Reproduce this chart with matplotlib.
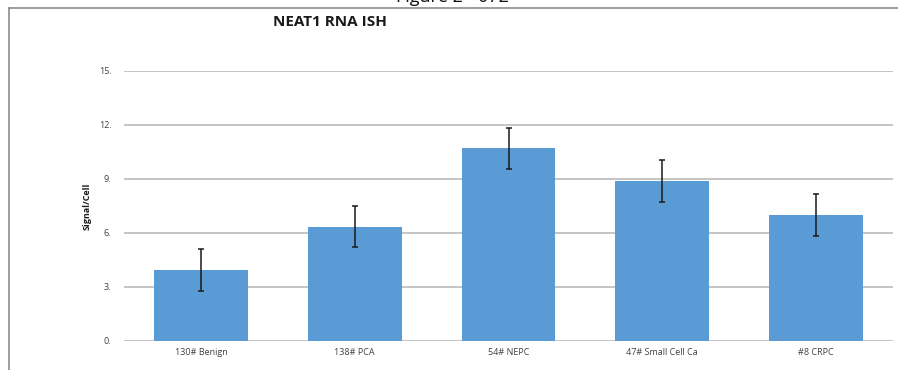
import matplotlib.pyplot as plt
from matplotlib.lines import Line2D

categories = ["130# Benign", "138# PCA", "54# NEPC", "47# Small Cell Ca", "#8 CRPC"]
signal = [3.95, 6.35, 10.7, 8.9, 7.0]
err = [1.15, 1.15, 1.15, 1.15, 1.15]
yticks = [0, 3, 6, 9, 12, 15]

plt.rcParams['font.family'] = ['Open Sans', 'DejaVu Sans']

fig = plt.figure(figsize=(8.98, 3.70), dpi=100)
ax = fig.add_axes([124 / 898, 1 - 341 / 370, (893 - 124) / 898, (341 - 71) / 370])

x = range(len(categories))
ax.bar(x, signal, width=0.61, color='#5b9bd5', zorder=2)
ax.errorbar(x, signal, yerr=err, fmt='none', ecolor='#1a1a1a', elinewidth=1.1,
            capsize=2.5, capthick=1.1, zorder=3)

ax.set_xlim(-0.5, len(categories) - 0.5)
ax.set_ylim(0, 15)
ax.set_yticks(yticks)
ax.set_yticklabels(["%d." % t for t in yticks], fontsize=6.5, color='#404040')
ax.set_xticks(list(x))
ax.set_xticklabels(categories, fontsize=6.5, color='#404040')
ax.tick_params(length=0, pad=9)
ax.tick_params(axis='x', pad=5)
ax.grid(axis='y', color='#bfbfbf', linewidth=1.3, zorder=0)
ax.set_axisbelow(True)
for s in ax.spines.values():
    s.set_visible(False)

ax.set_ylabel("Signal/Cell", fontsize=6.5, fontweight='bold', color='#1a1a1a', labelpad=5)
fig.text(330 / 898, 1 - 22 / 370, "NEAT1 RNA ISH", fontsize=11, fontweight='bold',
         ha='center', va='center', color='#1a1a1a')
# caption at the very top, cut by the page edge as in the scan
fig.text(452 / 898, 1 + 3 / 370, "Figure 2 - 072", fontsize=13, ha='center', va='center',
         color='#111111')

# page frame
fig.add_artist(Line2D([9 / 898, 1.0], [1 - 8 / 370, 1 - 8 / 370], color='#8c8c8c', lw=1.2,
                      transform=fig.transFigure))
fig.add_artist(Line2D([9 / 898, 9 / 898], [0, 1 - 8 / 370], color='#8c8c8c', lw=1.2,
                      transform=fig.transFigure))

fig.savefig("out.png", dpi=100)
